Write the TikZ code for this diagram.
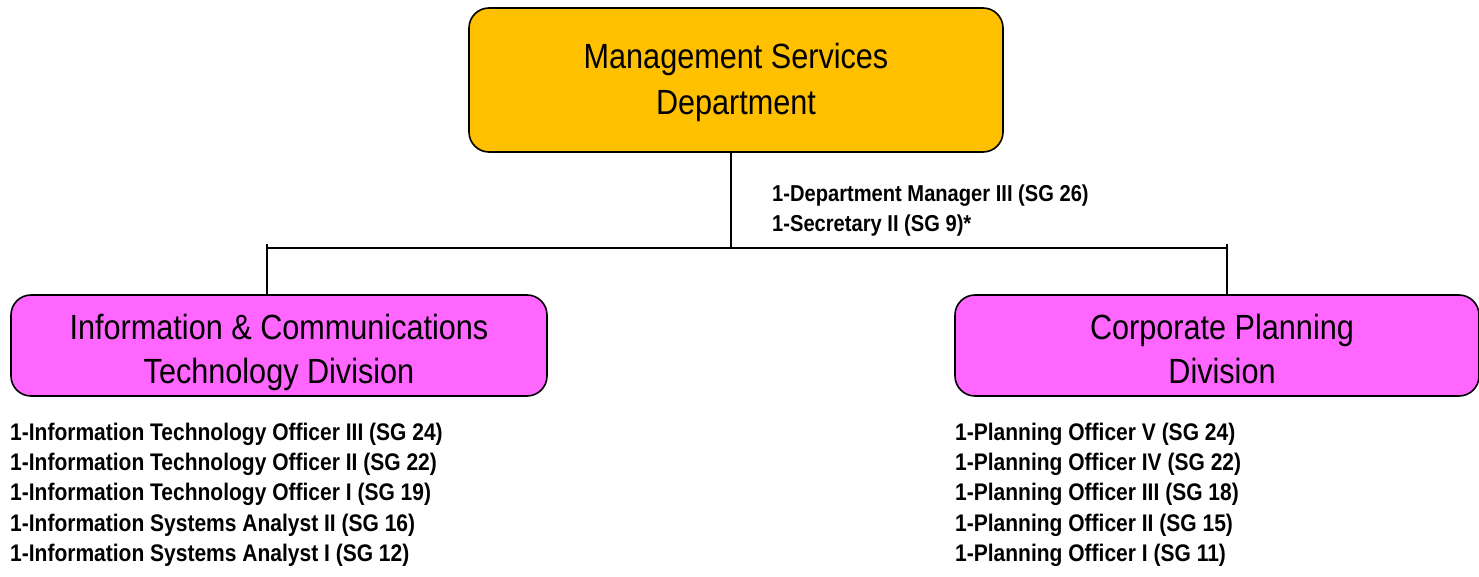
\documentclass[tikz,border=0pt]{standalone}
\usepackage{fontspec}
\setmainfont{Liberation Sans}[FakeStretch=0.875]
\usepackage{tikz}
\definecolor{gold}{RGB}{255,192,0}
\definecolor{magen}{RGB}{255,102,255}

\begin{document}
\begin{tikzpicture}[x=1pt,y=-1pt,
  unit/.style={draw=black,line width=1.6pt,rounded corners=20pt,align=center,
    inner sep=0pt,font=\fontsize{35}{44}\selectfont},
  staff/.style={align=left,inner sep=0pt,anchor=north west,
    font=\bfseries\fontsize{24}{30.2}\selectfont}]
\useasboundingbox (0,0) rectangle (1479,577);

\node[unit,fill=gold,minimum width=534pt,minimum height=144pt,
  font=\fontsize{35}{46}\selectfont] (dept) at (736,80)
  {\rule{0pt}{31.5pt}Management Services\\Department\rule[-8pt]{0pt}{8pt}};
\node[unit,fill=magen,minimum width=536pt,minimum height=101pt] (ict) at (279,345.5)
  {\rule{0pt}{39.5pt}Information \& Communications\\Technology Division\rule[-8pt]{0pt}{8pt}};
\node[unit,fill=magen,minimum width=524pt,minimum height=101pt] (cpd) at (1217,345.5)
  {\rule{0pt}{39.5pt}\hspace*{10pt}Corporate Planning\\\hspace*{10pt}Division\rule[-8pt]{0pt}{8pt}};

\coordinate (jc) at (731,248);
\coordinate (jl) at (267,248);
\coordinate (jr) at (1227,248);

\begin{scope}[line width=1.6pt]
\draw (dept.south -| jc) -- (jc);
\draw (jl) -- (jr);
\draw ([yshift=4pt]jl) -- (jl |- ict.north);
\draw ([yshift=4pt]jr) -- (jr |- cpd.north);
\end{scope}

\node[staff,font=\bfseries\fontsize{23}{30}\selectfont] (deptstaff) at (772,185)
  {1-Department Manager III (SG 26)\\1-Secretary II (SG 9)*};
\node[staff] (ictstaff) at (10,423)
  {1-Information Technology Officer III (SG 24)\\
   1-Information Technology Officer II (SG 22)\\
   1-Information Technology Officer I (SG 19)\\
   1-Information Systems Analyst II (SG 16)\\
   1-Information Systems Analyst I (SG 12)};
\node[staff] (cpdstaff) at (955,423)
  {1-Planning Officer V (SG 24)\\
   1-Planning Officer IV (SG 22)\\
   1-Planning Officer III (SG 18)\\
   1-Planning Officer II (SG 15)\\
   1-Planning Officer I (SG 11)};
\end{tikzpicture}
\end{document}
